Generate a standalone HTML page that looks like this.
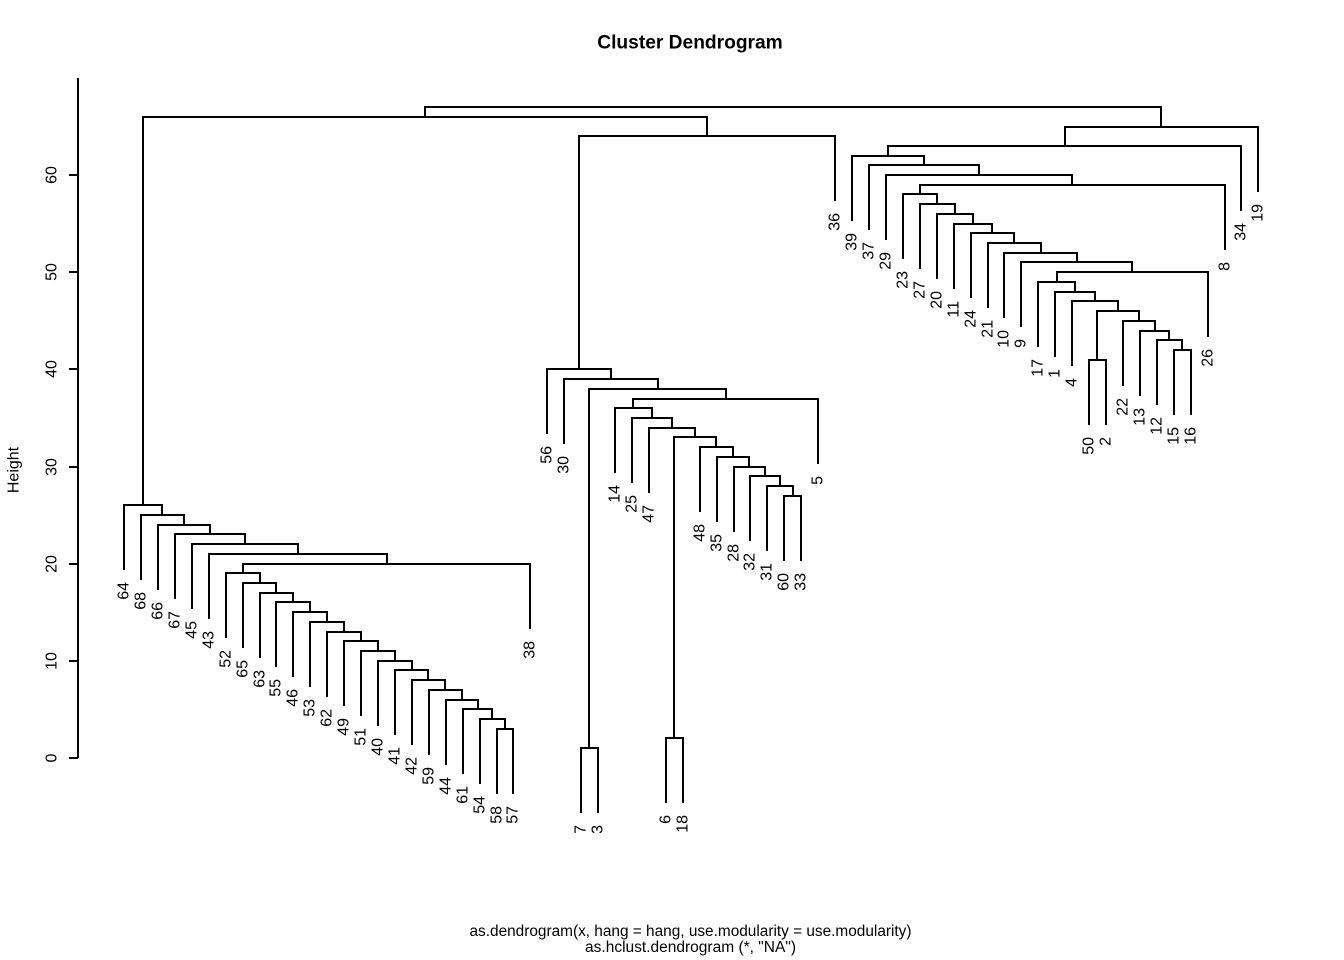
<!DOCTYPE html>
<html>
<head>
<meta charset="utf-8">
<style>
html,body{margin:0;padding:0;background:#fff;}
svg{display:block;}
text{font-family:"Liberation Sans",Arial,sans-serif;fill:#000;}
</style>
</head>
<body>
<svg width="1344" height="960" viewBox="0 0 1344 960" xmlns="http://www.w3.org/2000/svg">
<rect width="1344" height="960" fill="#fff"/>
<text x="690" y="48.5" font-weight="bold" font-size="19.2" text-anchor="middle">Cluster Dendrogram</text>

<g fill="none" stroke="#000" stroke-width="2" shape-rendering="crispEdges">
<!-- axis -->
<path d="M78 78V758 M69 758H78 M69 661H78 M69 564H78 M69 467H78 M69 369H78 M69 272H78 M69 175H78"/>
<!-- left cluster -->
<path d="M497 794V729H513V794
M480 784V719H505V729
M463 774V709H492V719
M446 765V700H478V709
M429 755V690H462V700
M412 745V680H445V690
M395 735V670H428V680
M378 726V661H412V670
M361 716V651H395V661
M344 706V641H378V651
M327 697V632H361V641
M310 687V622H344V632
M293 677V612H327V622
M276 667V602H310V612
M260 658V593H293V602
M243 648V583H276V593
M226 638V573H260V583
M243 573V564H530V629
M209 619V554H387V564
M192 609V544H298V554
M175 599V534H245V544
M158 590V525H210V534
M141 580V515H184V525
M124 570V505H162V515"/>
<!-- middle cluster -->
<path d="M784 561V496H801V561
M767 551V486H793V496
M750 541V476H780V486
M734 532V467H765V476
M717 522V457H749V467
M700 512V447H733V457
M666 803V738H683V803
M674 738V437H716V447
M649 493V428H695V437
M632 483V418H672V428
M615 473V408H652V418
M633 408V399H818V464
M581 813V748H598V813
M589 748V389H726V399
M564 444V379H658V389
M547 434V369H611V379
M579 369V136H835V201
M143 505V117H707V136"/>
<!-- right cluster -->
<path d="M1174 415V350H1191V415
M1157 405V340H1182V350
M1140 396V331H1169V340
M1123 386V321H1155V331
M1089 425V360H1106V425
M1097 360V311H1139V321
M1072 366V301H1118V311
M1055 357V292H1095V301
M1038 347V282H1075V292
M1057 282V272H1208V337
M1021 327V262H1132V272
M1004 318V253H1077V262
M988 308V243H1041V253
M971 298V233H1014V243
M954 289V224H992V233
M937 279V214H973V224
M920 269V204H955V214
M903 259V194H937V204
M920 194V185H1225V250
M886 240V175H1072V185
M869 230V165H979V175
M852 221V156H924V165
M888 156V146H1241V211
M1065 146V127H1258V192
M425 117V107H1161V127"/>
</g>

<!-- y tick labels -->
<g font-size="16" text-anchor="middle">
<text transform="translate(56.5 758) rotate(-90)">0</text>
<text transform="translate(56.5 661) rotate(-90)">10</text>
<text transform="translate(56.5 564) rotate(-90)">20</text>
<text transform="translate(56.5 467) rotate(-90)">30</text>
<text transform="translate(56.5 369) rotate(-90)">40</text>
<text transform="translate(56.5 272) rotate(-90)">50</text>
<text transform="translate(56.5 175) rotate(-90)">60</text>
<text transform="translate(18.3 470) rotate(-90)">Height</text>
</g>

<!-- leaf labels -->
<g font-size="16" text-anchor="end">
<text transform="translate(128.5 582) rotate(-90)">64</text>
<text transform="translate(145.5 592) rotate(-90)">68</text>
<text transform="translate(162.5 602) rotate(-90)">66</text>
<text transform="translate(179.5 611) rotate(-90)">67</text>
<text transform="translate(196.5 621) rotate(-90)">45</text>
<text transform="translate(213.5 631) rotate(-90)">43</text>
<text transform="translate(230.5 650) rotate(-90)">52</text>
<text transform="translate(247.5 660) rotate(-90)">65</text>
<text transform="translate(264.5 670) rotate(-90)">63</text>
<text transform="translate(280.5 679) rotate(-90)">55</text>
<text transform="translate(297.5 689) rotate(-90)">46</text>
<text transform="translate(314.5 699) rotate(-90)">53</text>
<text transform="translate(331.5 709) rotate(-90)">62</text>
<text transform="translate(348.5 718) rotate(-90)">49</text>
<text transform="translate(365.5 728) rotate(-90)">51</text>
<text transform="translate(382.5 738) rotate(-90)">40</text>
<text transform="translate(399.5 747) rotate(-90)">41</text>
<text transform="translate(416.5 757) rotate(-90)">42</text>
<text transform="translate(433.5 767) rotate(-90)">59</text>
<text transform="translate(450.5 777) rotate(-90)">44</text>
<text transform="translate(467.5 786) rotate(-90)">61</text>
<text transform="translate(484.5 796) rotate(-90)">54</text>
<text transform="translate(501.5 806) rotate(-90)">58</text>
<text transform="translate(517.5 806) rotate(-90)">57</text>
<text transform="translate(534.5 641) rotate(-90)">38</text>
<text transform="translate(551.5 446) rotate(-90)">56</text>
<text transform="translate(568.5 456) rotate(-90)">30</text>
<text transform="translate(585.5 825) rotate(-90)">7</text>
<text transform="translate(602.5 825) rotate(-90)">3</text>
<text transform="translate(619.5 485) rotate(-90)">14</text>
<text transform="translate(636.5 495) rotate(-90)">25</text>
<text transform="translate(653.5 505) rotate(-90)">47</text>
<text transform="translate(670.5 815) rotate(-90)">6</text>
<text transform="translate(687.5 815) rotate(-90)">18</text>
<text transform="translate(704.5 524) rotate(-90)">48</text>
<text transform="translate(721.5 534) rotate(-90)">35</text>
<text transform="translate(738.5 544) rotate(-90)">28</text>
<text transform="translate(754.5 553) rotate(-90)">32</text>
<text transform="translate(771.5 563) rotate(-90)">31</text>
<text transform="translate(788.5 573) rotate(-90)">60</text>
<text transform="translate(805.5 573) rotate(-90)">33</text>
<text transform="translate(822.5 476) rotate(-90)">5</text>
<text transform="translate(839.5 213) rotate(-90)">36</text>
<text transform="translate(856.5 233) rotate(-90)">39</text>
<text transform="translate(873.5 242) rotate(-90)">37</text>
<text transform="translate(890.5 252) rotate(-90)">29</text>
<text transform="translate(907.5 271) rotate(-90)">23</text>
<text transform="translate(924.5 281) rotate(-90)">27</text>
<text transform="translate(941.5 291) rotate(-90)">20</text>
<text transform="translate(958.5 301) rotate(-90)">11</text>
<text transform="translate(975.5 310) rotate(-90)">24</text>
<text transform="translate(992.5 320) rotate(-90)">21</text>
<text transform="translate(1008.5 330) rotate(-90)">10</text>
<text transform="translate(1025.5 339) rotate(-90)">9</text>
<text transform="translate(1042.5 359) rotate(-90)">17</text>
<text transform="translate(1059.5 369) rotate(-90)">1</text>
<text transform="translate(1076.5 378) rotate(-90)">4</text>
<text transform="translate(1093.5 437) rotate(-90)">50</text>
<text transform="translate(1110.5 437) rotate(-90)">2</text>
<text transform="translate(1127.5 398) rotate(-90)">22</text>
<text transform="translate(1144.5 408) rotate(-90)">13</text>
<text transform="translate(1161.5 417) rotate(-90)">12</text>
<text transform="translate(1178.5 427) rotate(-90)">15</text>
<text transform="translate(1195.5 427) rotate(-90)">16</text>
<text transform="translate(1212.5 349) rotate(-90)">26</text>
<text transform="translate(1229.5 262) rotate(-90)">8</text>
<text transform="translate(1245.5 223) rotate(-90)">34</text>
<text transform="translate(1262.5 204) rotate(-90)">19</text>
</g>

<!-- subtitle -->
<g font-size="15.5" text-anchor="middle">
<text x="690.5" y="936" textLength="442" lengthAdjust="spacingAndGlyphs">as.dendrogram(x, hang = hang, use.modularity = use.modularity)</text>
<text x="690.5" y="952" textLength="211" lengthAdjust="spacingAndGlyphs">as.hclust.dendrogram (*, "NA")</text>
</g>
</svg>
</body>
</html>
